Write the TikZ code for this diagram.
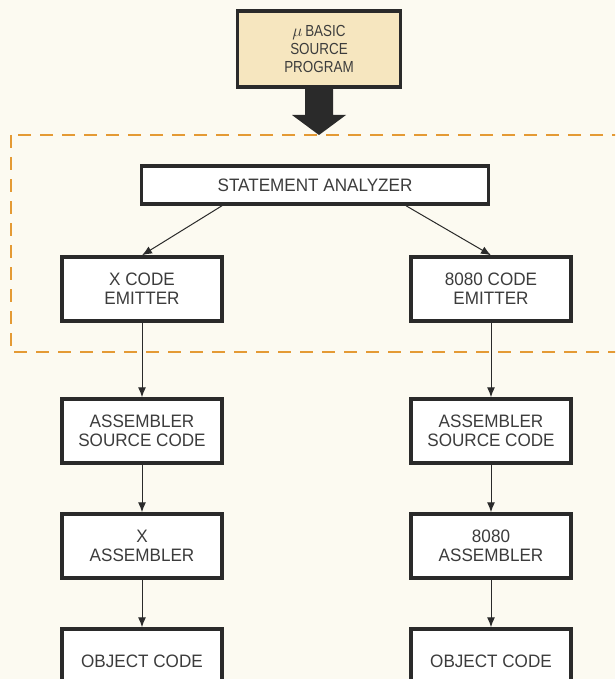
\documentclass[tikz,border=0pt]{standalone}
\usepackage{fontspec}
\setmainfont{Liberation Sans}[FakeStretch=0.95]
\newfontfamily\narrowfont{Liberation Sans}[FakeStretch=0.84]
\usetikzlibrary{arrows.meta,calc}
\definecolor{paper}{HTML}{FCFAF1}
\definecolor{tan}{HTML}{F6E6BF}
\definecolor{dashorange}{HTML}{E49A35}
\definecolor{ink}{HTML}{2A2A2A}
\definecolor{label}{HTML}{3C3C3C}
\begin{document}
\begin{tikzpicture}[x=1pt,y=-1pt,
            every node/.style = {draw=ink, line width=3.5pt, fill=white,
                font=\fontsize{18}{19}\selectfont, text=label, align=center,
                inner sep=0pt},
            stage/.style = {minimum width=160pt, minimum height=64pt},
            flow/.style = {draw=ink, line width=1pt,
                -{Latex[length=10pt,width=8pt]}}]
\useasboundingbox[fill=paper] (0,0) rectangle (615,679);
\clip (0,0) rectangle (615,679);
\draw[dashorange, line width=2.2pt, dash pattern=on 13pt off 9pt]
    (11,135) rectangle (640,352);
\node[fill=tan, minimum width=163pt, minimum height=76pt,
    font=\narrowfont\fontsize{16}{18}\selectfont] (source) at (319,49)
    {$\mu$\,BASIC\\SOURCE\\PROGRAM};
\fill[ink] (305,87) -- (333,87) -- (333,115) -- (346,115) -- (319,135)
    -- (292,115) -- (305,115) -- cycle;
\node[minimum width=347pt, minimum height=38pt] (analyzer) at (315,185)
    {STATEMENT ANALYZER};
\node[stage] (xemit) at (142,289) {X CODE\\EMITTER};
\node[stage] (iemit) at (491,289) {8080 CODE\\EMITTER};
\node[stage] (xsrc) at (142,431) {ASSEMBLER\\SOURCE CODE};
\node[stage] (isrc) at (491,431) {ASSEMBLER\\SOURCE CODE};
\node[stage] (xasm) at (142,546) {X\\ASSEMBLER};
\node[stage] (iasm) at (491,546) {8080\\ASSEMBLER};
\node[stage] (xobj) at (142,661) {OBJECT CODE};
\node[stage] (iobj) at (491,661) {OBJECT CODE};
\draw[flow] ($(analyzer.south)+(-93,0)$) -- (xemit.north);
\draw[flow] ($(analyzer.south)+(91,0)$) -- (iemit.north);
\draw[flow] (xemit) -- (xsrc);
\draw[flow] (iemit) -- (isrc);
\draw[flow] (xsrc) -- (xasm);
\draw[flow] (isrc) -- (iasm);
\draw[flow] (xasm) -- (xobj);
\draw[flow] (iasm) -- (iobj);
\end{tikzpicture}
\end{document}
